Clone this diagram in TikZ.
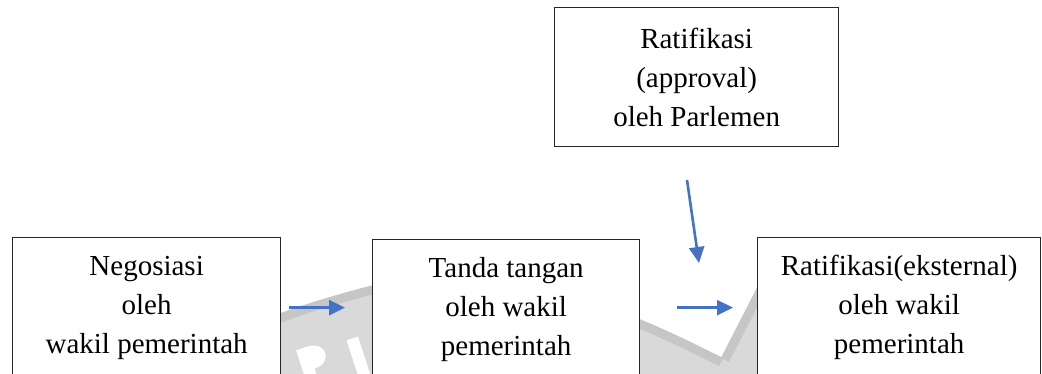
\documentclass[tikz,border=0pt]{standalone}
\usepackage{fontspec}
\setmainfont{Liberation Serif}
\usetikzlibrary{arrows.meta}
\definecolor{flow}{HTML}{4472C4}
\definecolor{wmlight}{HTML}{D9D9D9}
\definecolor{wmdark}{HTML}{C6C6C6}
\tikzset{
  stage/.style={draw=black!85, line width=1.3pt, fill=white, align=center,
    inner sep=0pt, font=\fontsize{29}{39}\selectfont},
  flowarrow/.style={draw=flow, line width=2.6pt,
    -{Triangle[length=16pt,width=15pt]}},
  wmband/.style={draw=wmdark, line width=9pt},
}
\begin{document}
\begin{tikzpicture}[x=1pt,y=-1pt]
\useasboundingbox (0,0) rectangle (1042,374);
\clip (0,0) rectangle (1042,374);

% faint background seal
\fill[wmlight] (270,318) .. controls (300,306) and (340,294) .. (380,284)
  -- (380,380) -- (270,380) -- cycle;
\draw[wmband] (270,322) .. controls (300,310) and (340,298) .. (380,288);
\fill[white, rotate around={18:(315,360)}]
  (300,345) rectangle (312,380) (312,345) .. controls (332,345) and (332,368) .. (312,368) -- cycle;
\fill[white, rotate around={18:(356,350)}] (350,338) rectangle (362,380);
\fill[wmlight] (630,316) .. controls (665,330) and (695,345) .. (721,358)
  -- (762,278) -- (762,380) -- (630,380) -- cycle;
\draw[wmband] (630,320) .. controls (665,334) and (695,349) .. (721,362);
\draw[wmband] (725,360) -- (765,282);

% process stages
\node[stage, minimum width=268pt, minimum height=140pt, anchor=north west]
  (neg) at (12,237) {Negosiasi\\oleh\\wakil pemerintah};
\node[stage, minimum width=267pt, minimum height=140pt, anchor=north west]
  (sign) at (372,239) {Tanda tangan\\oleh wakil\\pemerintah};
\node[stage, minimum width=283pt, minimum height=140pt, anchor=north west]
  (ext) at (757,237) {Ratifikasi(eksternal)\\oleh wakil\\pemerintah};
\node[stage, minimum width=284pt, minimum height=139pt, anchor=north west]
  (parl) at (554,7) {Ratifikasi\\(approval)\\oleh Parlemen};

% connectors
\coordinate (parlOut) at (687,180);
\coordinate (extIn) at (699,263);
\draw[flowarrow, shorten <=8pt, shorten >=27pt] (neg.east) -- (neg.east -| sign.west);
\draw[flowarrow, shorten <=37pt, shorten >=24pt] (neg.east -| sign.east) -- (neg.east -| ext.west);
\draw[flowarrow] (parlOut) -- (extIn);
\end{tikzpicture}
\end{document}
